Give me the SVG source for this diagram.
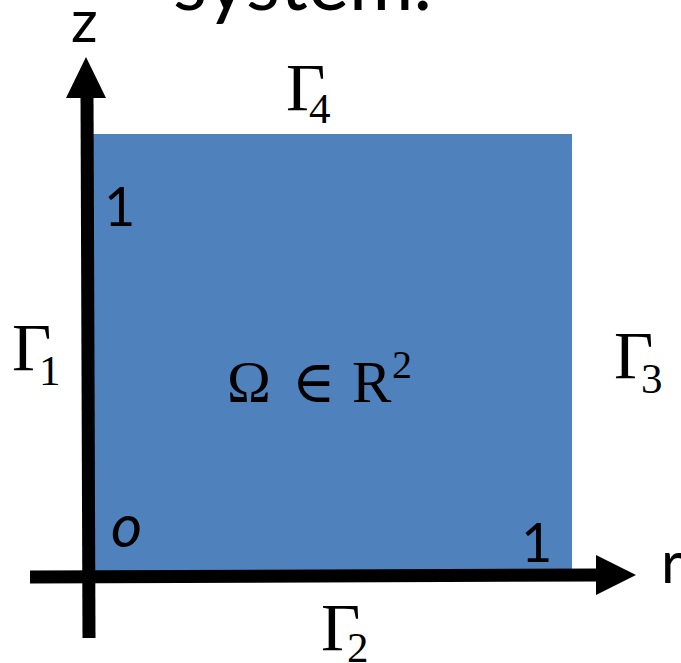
<svg xmlns="http://www.w3.org/2000/svg" width="681" height="663" viewBox="0 0 681 663">
<style>
.sans{font-family:Lato,"Open Sans","Liberation Sans",sans-serif;fill:#000}
.serif{font-family:"Liberation Serif","DejaVu Serif",serif;fill:#000}
.g{font-size:68px}
.sub{font-size:43px}
</style>
<rect width="681" height="663" fill="#fff"/>
<text class="sans" x="173" y="10" font-size="80" textLength="259" lengthAdjust="spacingAndGlyphs">system.</text>
<g id="domain">
<rect x="92" y="134" width="480" height="438" fill="#4F81BD"/>
<text class="serif" x="227" y="402" font-size="59">Ω</text>
<text class="serif" x="292" y="402" font-size="59">∈</text>
<text class="serif" x="352" y="402" font-size="59">R</text>
<text class="serif" x="392" y="378" font-size="40">2</text>
</g>
<g id="axes">
<line x1="87" y1="95" x2="89" y2="638" stroke="#000" stroke-width="13"/>
<polygon points="86,57 66,98 106,98" fill="#000"/>
<line x1="30" y1="577" x2="600" y2="575" stroke="#000" stroke-width="13"/>
<polygon points="636,575 596,555 596,595" fill="#000"/>
</g>
<g id="labels">
<text class="sans" x="71" y="42" font-size="59">z</text>
<text class="sans" x="661" y="583" font-size="59">r</text>
<text class="sans" x="104" y="226" font-size="54">1</text>
<text class="sans" x="521" y="562" font-size="54">1</text>
<text class="sans" x="111" y="547" font-size="60" font-style="italic">o</text>
</g>
<g id="gamma4"><text class="serif g" x="286" y="110">Γ</text><text class="serif sub" x="309" y="123">4</text></g>
<g id="gamma1"><text class="serif g" x="12" y="370">Γ</text><text class="serif sub" x="39" y="385">1</text></g>
<g id="gamma3"><text class="serif g" x="614" y="378">Γ</text><text class="serif sub" x="641" y="393">3</text></g>
<g id="gamma2"><text class="serif g" x="321" y="650">Γ</text><text class="serif sub" x="347" y="662">2</text></g>
</svg>
